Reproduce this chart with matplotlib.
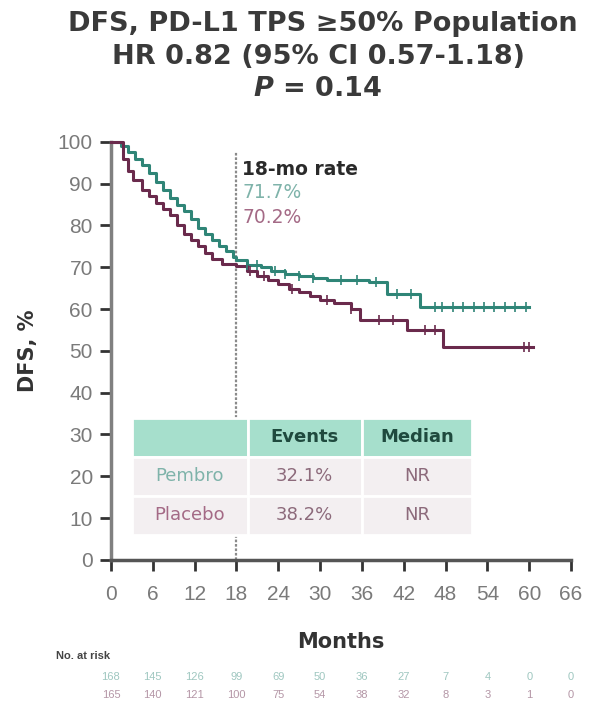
import numpy as np
import matplotlib
matplotlib.use("Agg")
import matplotlib.pyplot as plt
from matplotlib import transforms

# ---- data -------------------------------------------------------------
arms = ["Pembro", "Placebo"]

pembro_t = [0, 1.5, 2.5, 3.5, 4.5, 5.5, 6.5, 7.5, 8.5, 9.5, 10.5, 11.5, 12.5,
            13.5, 14.5, 15.5, 16.5, 17.5, 18.0, 19.5, 21.5, 23, 25, 27, 29, 31,
            34, 37, 39.6, 44.3, 60]
pembro_s = [100, 99, 97.5, 96, 94.5, 92.5, 90.5, 88.5, 86.5, 85, 83.5, 81.5,
            79.5, 78, 76.5, 75, 74, 72.5, 71.7, 70.5, 70, 69, 68.5, 68, 67.5,
            67, 67, 66.5, 63.5, 60.5, 60.5]

placebo_t = [0, 1.8, 2.5, 3.2, 4.5, 5.5, 6.5, 7.5, 8.5, 9.5, 10.5, 11.5,
             12.5, 13.5, 14.5, 16.0, 18.0, 19.5, 21, 22.5, 24, 25.5, 27, 28.5,
             30, 32, 34.5, 35.7, 42.5, 47.6, 60.5]
placebo_s = [100, 96, 93, 91, 88.5, 87, 85.5, 84, 82.5, 80, 78, 76.5, 75,
             73.5, 72, 70.8, 70.2, 69, 68, 67, 66, 64.8, 64, 63.2, 62.2, 61.5,
             60, 57.5, 55, 51, 51]

pembro_cens = [19.5, 21, 23.5, 25, 27, 29, 33, 35.3, 38, 41, 43, 46.5, 47.5,
               49, 50.5, 52, 53.5, 55, 56.5, 58, 59.5]
placebo_cens = [20, 22, 26, 31, 34.5, 38.5, 40.5, 45, 46.5, 59.3, 60]

rate_month = 18
rate_values = ["71.7%", "70.2%"]

table_cols = ["", "Events", "Median"]
events = ["32.1%", "38.2%"]
medians = ["NR", "NR"]

x_ticks = list(range(0, 67, 6))
y_ticks = list(range(0, 101, 10))
risk_pembro = [168, 145, 126, 99, 69, 50, 36, 27, 7, 4, 0, 0]
risk_placebo = [165, 140, 121, 100, 75, 54, 38, 32, 8, 3, 1, 0]

title_lines = ["DFS, PD-L1 TPS \u226550% Population",
               "HR 0.82 (95% CI 0.57-1.18)"]
p_value = "0.14"

# ---- style ------------------------------------------------------------
TEAL = "#2f8577"
MAROON = "#6a2a4c"
TEAL_TXT = "#7fb3aa"
MAROON_TXT = "#a46a86"
GRAY = "#7a7a7a"
WIDE = ["DejaVu Sans"]

plt.rcParams["font.family"] = ["Liberation Sans", "DejaVu Sans"]

fig = plt.figure(figsize=(5.9, 7.06), dpi=100)
ax = fig.add_axes([0.188, 0.207, 0.780, 0.592])

def step_at(t, s, x):
    t = np.asarray(t); s = np.asarray(s)
    idx = np.searchsorted(t, x, side="right") - 1
    return s[np.clip(idx, 0, len(s) - 1)]

for t, s, c, cens in [(pembro_t, pembro_s, TEAL, pembro_cens),
                      (placebo_t, placebo_s, MAROON, placebo_cens)]:
    ax.step(t, s, where="post", color=c, lw=2.2, zorder=4, clip_on=False)
    ax.plot(cens, step_at(t, s, cens), ls="none", marker="|", ms=7,
            mew=1.4, color=c, zorder=5, alpha=0.85)

# 18-month landmark
ax.vlines(rate_month, 0, 97.5, color="#8a8a8a", lw=1.6, ls=(0, (1.2, 0.8)),
          zorder=2)
ax.text(rate_month + 0.8, 93.5, "18-mo rate", fontsize=13.5,
        fontweight="bold", color="#2a2a2a", va="center", family=WIDE)
ax.text(rate_month + 0.8, 88.0, rate_values[0], fontsize=13.5,
        color=TEAL_TXT, va="center", family=WIDE)
ax.text(rate_month + 0.8, 82.0, rate_values[1], fontsize=13.5,
        color=MAROON_TXT, va="center", family=WIDE)

# summary table
cell_text = [[arms[0], events[0], medians[0]],
             [arms[1], events[1], medians[1]]]
tbl = ax.table(cellText=cell_text, colLabels=table_cols, cellLoc="center",
               bbox=[3 / 66, 6 / 100, 48.8 / 66, 28 / 100], zorder=6)
tbl.auto_set_font_size(False)
widths = [0.34, 0.335, 0.325]
for (r, c), cell in tbl.get_celld().items():
    cell.set_edgecolor("white")
    cell.set_linewidth(2.0)
    cell.set_width(widths[c] * 48.8 / 66)
    txt = cell.get_text()
    txt.set_fontsize(13)
    txt.set_family(WIDE)
    if r == 0:
        cell.set_facecolor("#a6dfcc")
        txt.set_fontweight("bold")
        txt.set_color("#1f4a3e")
    else:
        cell.set_facecolor("#f3eff1")
        if c == 0:
            txt.set_color(TEAL_TXT if r == 1 else MAROON_TXT)
        else:
            txt.set_color("#8c6a7b")

# axes styling
ax.set_xlim(0, 66)
ax.set_ylim(0, 100)
ax.set_xticks(x_ticks)
ax.set_yticks(y_ticks)
ax.tick_params(axis="both", direction="out", length=8, width=2,
               color="#333333", labelsize=15, labelcolor=GRAY)
ax.tick_params(axis="x", pad=10)
ax.tick_params(axis="y", pad=5)
for side in ["top", "right"]:
    ax.spines[side].set_visible(False)
ax.spines["left"].set_color("#808080")
ax.spines["left"].set_linewidth(2.5)
ax.spines["bottom"].set_color("#555555")
ax.spines["bottom"].set_linewidth(2.5)
ax.set_ylabel("DFS, %", fontsize=15, fontweight="bold", color="#333333",
              labelpad=14, family=WIDE)
ax.set_xlabel("Months", fontsize=15, fontweight="bold", color="#333333",
              labelpad=20, family=WIDE)

# titles
title_kw = dict(ha="center", va="center", fontweight="bold", color="#3a3a3a",
                family=WIDE, fontsize=19.5)
fig.text(323 / 590, 1 - 24 / 706, title_lines[0], **title_kw)
fig.text(318 / 590, 1 - 57 / 706, title_lines[1], **title_kw)
fig.text(318 / 590, 1 - 89 / 706, r"$\mathbfit{P}$ = " + p_value, **title_kw)

# number at risk
blend = transforms.blended_transform_factory(ax.transData, fig.transFigure)
fig.text(56 / 590, 1 - 656 / 706, "No. at risk", fontsize=8,
         fontweight="bold", color="#444444", va="center")
for x, a, b in zip(x_ticks, risk_pembro, risk_placebo):
    ax.text(x, 1 - 677 / 706, str(a), transform=blend, ha="center",
            va="center", fontsize=8, color="#9fc7c0", clip_on=False)
    ax.text(x, 1 - 695 / 706, str(b), transform=blend, ha="center",
            va="center", fontsize=8, color="#b496a6", clip_on=False)

fig.savefig("out.png", dpi=100)
